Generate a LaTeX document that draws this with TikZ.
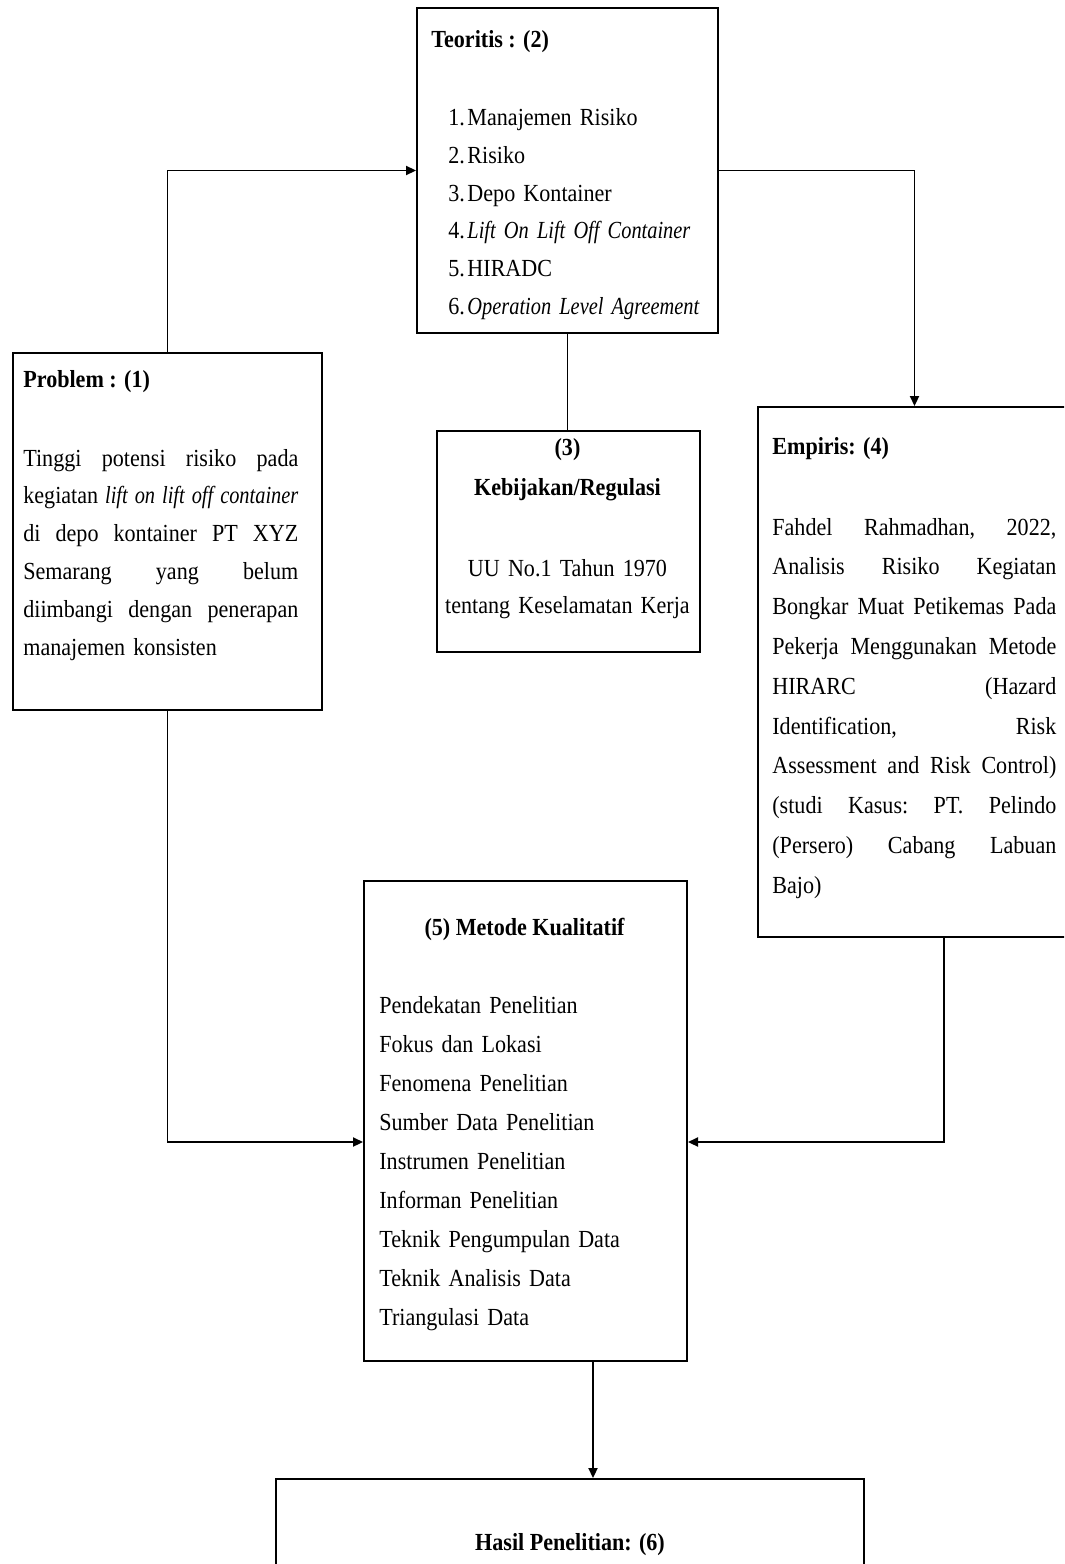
\documentclass[tikz,border=0pt]{standalone}
\usepackage{fontspec}
\setmainfont{Liberation Serif}[FakeStretch=0.9, ItalicFeatures={FakeStretch=0.83}]
\usetikzlibrary{arrows.meta,calc}
\newcommand\jg{\hspace{0.2em plus 1fil}}
\begin{document}
\begin{tikzpicture}[x=0.55pt,y=-0.55pt,
  box/.style={draw, line width=1.1pt, inner sep=0pt, anchor=north west},
  conn/.style={line width=1pt},
  arr/.style={conn, -{Triangle[length=5.5pt,width=5pt]}},
  txt/.style={inner sep=0pt, anchor=base west, align=left},
  ttl/.style={inner sep=0pt, anchor=base west, font=\fontsize{13.5}{20.7}\selectfont\bfseries},
  cttl/.style={inner sep=0pt, anchor=base, font=\fontsize{13.5}{20.7}\selectfont\bfseries},
]
\clip (0,0) rectangle (1064,1564);
\fill[white] (0,0) rectangle (1064,1564);

% boxes
\node[box, minimum width=301*0.55pt, minimum height=325*0.55pt] (teo) at (416,7) {};
\node[box, minimum width=309*0.55pt, minimum height=357*0.55pt] (prob) at (12,352) {};
\node[box, minimum width=263*0.55pt, minimum height=221*0.55pt] (keb) at (436,430) {};
\node[box, minimum width=313*0.55pt, minimum height=530*0.55pt] (emp) at (757,406) {};
\node[box, minimum width=323*0.55pt, minimum height=480*0.55pt] (met) at (363,880) {};
\node[box, minimum width=588*0.55pt, minimum height=200*0.55pt] (has) at (275,1478) {};

% Teoritis
\node[ttl] (teoT) at (431,48) {Teoritis : (2)};
\node[txt, text width=160pt, font=\fontsize{13.5}{20.7}\selectfont] (teoL) at (448,126) {%
\makebox[10.5pt][l]{1.}Manajemen Risiko\\
\makebox[10.5pt][l]{2.}Risiko\\
\makebox[10.5pt][l]{3.}Depo Kontainer\\
\makebox[10.5pt][l]{4.}\textit{Lift On Lift Off Container}\\
\makebox[10.5pt][l]{5.}HIRADC\\
\makebox[10.5pt][l]{6.}\textit{Operation Level Agreement}};

% Problem
\node[ttl] (probT) at (23,387) {Problem : (1)};
\node[txt, text width=151.25pt, font=\fontsize{13.5}{20.8}\selectfont] (probL) at (23,466) {%
\makebox[151.25pt][s]{Tinggi\jg potensi\jg risiko\jg pada}\\
\makebox[151.25pt][s]{kegiatan\jg \textit{lift\jg on\jg lift\jg off\jg container}}\\
\makebox[151.25pt][s]{di\jg depo\jg kontainer\jg PT\jg XYZ}\\
\makebox[151.25pt][s]{Semarang\jg yang\jg belum}\\
\makebox[151.25pt][s]{diimbangi\jg dengan\jg penerapan}\\
manajemen konsisten};

% Kebijakan
\node[cttl] (kebA) at (567.5,455) {(3)};
\node[cttl] (kebB) at (567.5,495) {Kebijakan/Regulasi};
\node[txt, anchor=base, align=center, text width=150pt, font=\fontsize{13.5}{20.6}\selectfont] (kebL) at (567.5,576) {%
UU No.1 Tahun 1970\\tentang Keselamatan Kerja};

% Empiris
\node[ttl] (empT) at (772,454) {Empiris: (4)};
\node[txt, text width=156.2pt, font=\fontsize{13.5}{21.9}\selectfont] (empL) at (772,535) {%
\makebox[156.2pt][s]{Fahdel\jg Rahmadhan,\jg 2022,}\\
\makebox[156.2pt][s]{Analisis\jg Risiko\jg Kegiatan}\\
\makebox[156.2pt][s]{Bongkar\jg Muat\jg Petikemas\jg Pada}\\
\makebox[156.2pt][s]{Pekerja\jg Menggunakan\jg Metode}\\
\makebox[156.2pt][s]{HIRARC\jg (Hazard}\\
\makebox[156.2pt][s]{Identification,\jg Risk}\\
\makebox[156.2pt][s]{Assessment\jg and\jg Risk\jg Control)}\\
\makebox[156.2pt][s]{(studi\jg Kasus:\jg PT.\jg Pelindo}\\
\makebox[156.2pt][s]{(Persero)\jg Cabang\jg Labuan}\\
Bajo)};

% Metode
\node[cttl] (metT) at (524.5,935) {(5) Metode Kualitatif};
\node[txt, text width=170pt, font=\fontsize{13.5}{21.45}\selectfont] (metL) at (379,1013) {%
Pendekatan Penelitian\\
Fokus dan Lokasi\\
Fenomena Penelitian\\
Sumber Data Penelitian\\
Instrumen Penelitian\\
Informan Penelitian\\
Teknik Pengumpulan Data\\
Teknik Analisis Data\\
Triangulasi Data};

% Hasil
\node[cttl] (hasT) at (570,1550) {Hasil Penelitian: (6)};

% connectors
\coordinate (jy) at (0,1142);
\coordinate (ex) at (944,0);
\coordinate (mx) at (593,0);
\draw[arr] (prob.north) |- (teo.west);
\draw[arr] (teo.east) -| (emp.north);
\draw[conn] (teo.south) -- (teo.south |- keb.north);
\draw[arr] (prob.south) |- (met.west |- jy);
\draw[arr] (emp.south -| ex) |- (met.east |- jy);
\draw[arr] (met.south -| mx) -- (has.north -| mx);
\end{tikzpicture}
\end{document}
